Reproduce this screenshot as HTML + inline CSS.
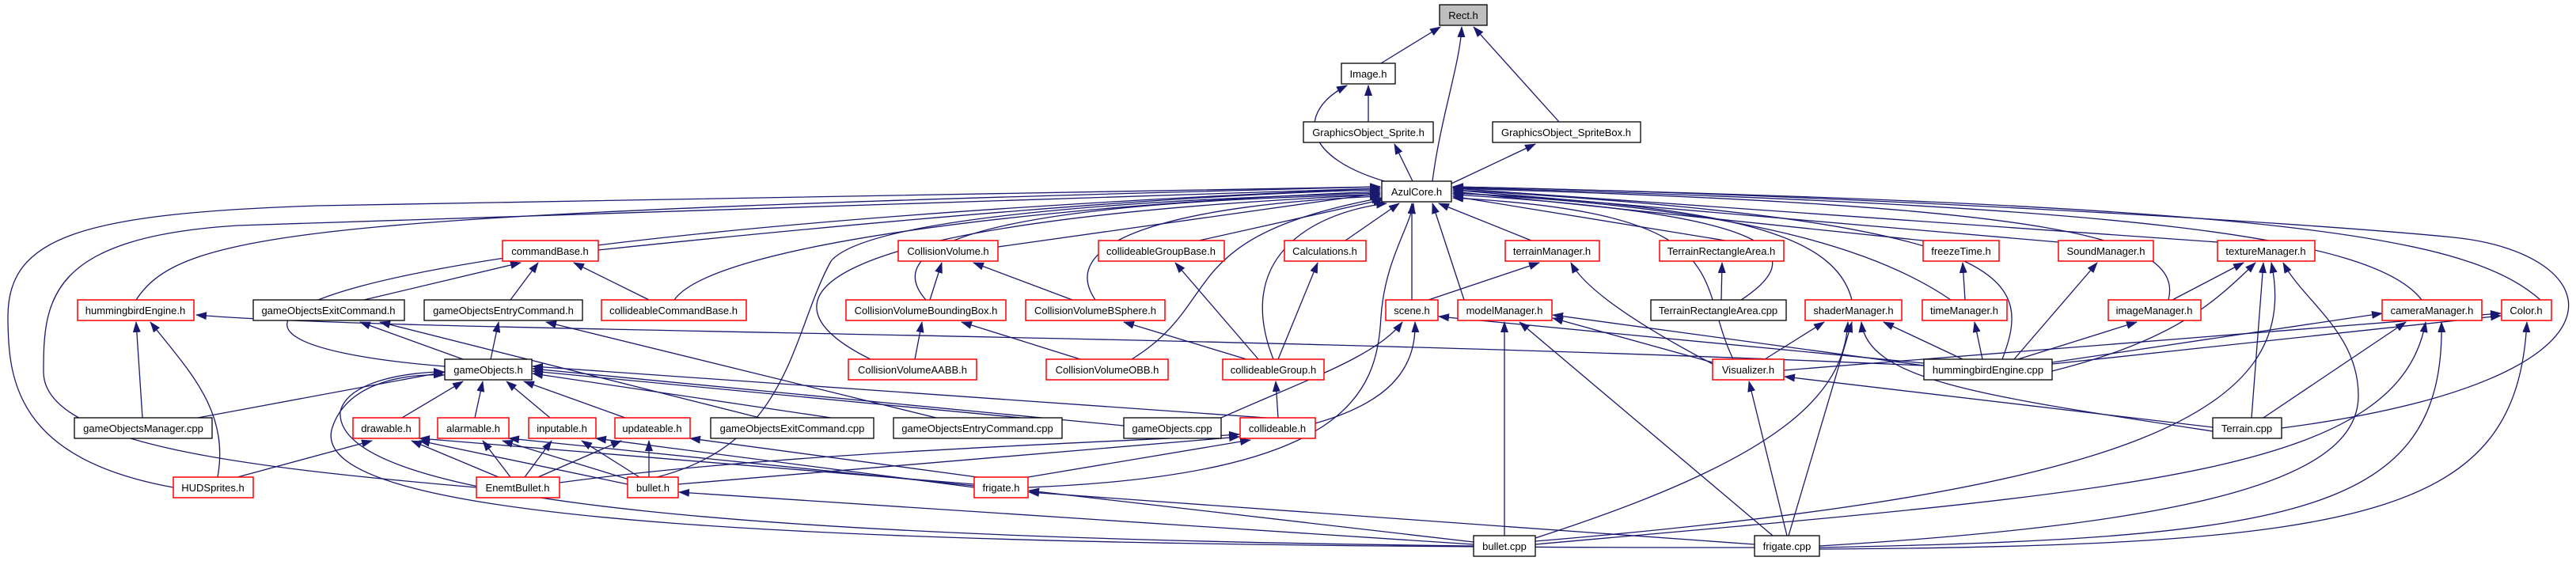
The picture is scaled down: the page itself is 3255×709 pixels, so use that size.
<!DOCTYPE html>
<html><head><meta charset="utf-8"><style>
html,body{margin:0;padding:0;background:#fff;}
svg{display:block;}
text{font-family:"Liberation Sans",sans-serif;font-size:13px;fill:#000;text-anchor:middle;}
.e{fill:none;stroke:#191970;stroke-width:1.3;marker-end:url(#a);}
.r{fill:#fff;stroke:#ff0000;stroke-width:1.5;}
.b{fill:#fff;stroke:#000;stroke-width:1.3;}
</style></head><body>
<svg width="3255" height="709" viewBox="0 0 3255 709" xmlns="http://www.w3.org/2000/svg">
<defs><marker id="a" markerWidth="14" markerHeight="10" refX="13" refY="5" orient="auto" markerUnits="userSpaceOnUse"><path d="M0,0 L14,5 L0,10 z" fill="#191970"/></marker></defs>
<g>
<path class="e" d="M1745,80 L1820,34"/>
<path class="e" d="M1810,229 C1820,150 1845,80 1847,34"/>
<path class="e" d="M1970,154 L1862,34"/>
<path class="e" d="M1729,154 L1729,108"/>
<path class="e" d="M1760,232 C1640,200 1640,140 1702,108"/>
<path class="e" d="M1785,229 L1762,182"/>
<path class="e" d="M1834,232 L1940,182"/>
<path class="e" d="M756,316 C1100,280 1500,245 1744,240"/>
<path class="e" d="M172,379 C230,290 400,270 1744,236"/>
<path class="e" d="M852,379 C900,310 1300,260 1744,242"/>
<path class="e" d="M1261,312 L1744,244"/>
<path class="e" d="M1170,379 C1100,300 1300,255 1744,246"/>
<path class="e" d="M1384,379 C1330,300 1500,258 1744,248"/>
<path class="e" d="M1515,304 L1748,252"/>
<path class="e" d="M1700,304 L1768,257"/>
<path class="e" d="M562,463 C150,430 300,300 1744,238"/>
<path class="e" d="M1100,454 C950,380 1000,280 1744,246"/>
<path class="e" d="M1430,454 C1550,380 1480,300 1746,250"/>
<path class="e" d="M1609,454 C1560,330 1650,270 1752,257"/>
<path class="e" d="M1784,379 L1784,257"/>
<path class="e" d="M1850,379 L1810,257"/>
<path class="e" d="M1935,304 L1818,257"/>
<path class="e" d="M2180,304 L1836,248"/>
<path class="e" d="M2200,379 C2290,320 2250,270 1836,246"/>
<path class="e" d="M2340,379 C2320,300 2200,260 1836,244"/>
<path class="e" d="M2465,379 C2350,300 2150,260 1836,244"/>
<path class="e" d="M2430,304 L1836,242"/>
<path class="e" d="M2530,454 C2570,350 2550,280 1836,240"/>
<path class="e" d="M2601,306 L1836,240"/>
<path class="e" d="M2740,379 C2760,300 2600,260 1836,238"/>
<path class="e" d="M2802,306 L1836,238"/>
<path class="e" d="M3060,379 C3000,300 2700,260 1836,237"/>
<path class="e" d="M3210,379 C3120,300 2900,260 1836,236"/>
<path class="e" d="M2883,541 C3350,480 3300,320 3100,300 S2300,245 1836,236"/>
<path class="e" d="M2190,454 C2140,350 2200,270 1836,250"/>
<path class="e" d="M219,616 C20,580 10,480 10,400 C10,300 100,270 400,260 L1744,236"/>
<path class="e" d="M602,616 C300,590 55,560 55,470 C55,380 60,300 300,285 L1744,238"/>
<path class="e" d="M1299,616 C1700,600 1740,500 1745,400 C1750,330 1780,290 1786,257"/>
<path class="e" d="M830,603 C1000,560 1000,420 1050,330 C1100,270 1500,250 1744,244"/>
<path class="e" d="M460,379 L658,332"/>
<path class="e" d="M645,379 L680,332"/>
<path class="e" d="M820,379 L725,332"/>
<path class="e" d="M585,454 L455,407"/>
<path class="e" d="M620,454 L630,407"/>
<path class="e" d="M960,528 L480,407"/>
<path class="e" d="M1183,528 L690,407"/>
<path class="e" d="M180,528 L172,407"/>
<path class="e" d="M275,603 C290,520 240,470 190,407"/>
<path class="e" d="M2431,462 C1500,420 500,420 248,398"/>
<path class="e" d="M250,528 L562,470"/>
<path class="e" d="M508,528 L585,482"/>
<path class="e" d="M600,528 L610,482"/>
<path class="e" d="M695,528 L640,482"/>
<path class="e" d="M790,528 L662,482"/>
<path class="e" d="M1050,528 L673,472"/>
<path class="e" d="M1290,528 L673,469"/>
<path class="e" d="M1420,538 L673,466"/>
<path class="e" d="M1600,528 L673,463"/>
<path class="e" d="M1862,690 C1000,680 420,640 430,520 C440,480 520,470 561,470"/>
<path class="e" d="M2217,692 C1000,692 380,660 420,540 C440,480 520,472 561,474"/>
<path class="e" d="M300,603 L470,557"/>
<path class="e" d="M630,603 L520,557"/>
<path class="e" d="M793,612 L530,557"/>
<path class="e" d="M1231,612 L530,554"/>
<path class="e" d="M645,603 L610,557"/>
<path class="e" d="M795,606 L635,557"/>
<path class="e" d="M1231,614 L643,554"/>
<path class="e" d="M663,603 L697,557"/>
<path class="e" d="M808,603 L735,557"/>
<path class="e" d="M1231,616 L753,554"/>
<path class="e" d="M680,603 L785,557"/>
<path class="e" d="M820,603 L820,557"/>
<path class="e" d="M1235,603 L872,554"/>
<path class="e" d="M707,610 C1000,570 1400,560 1566,549"/>
<path class="e" d="M857,612 L1566,552"/>
<path class="e" d="M1299,603 L1580,556"/>
<path class="e" d="M1615,528 L1612,482"/>
<path class="e" d="M1662,535 C1750,510 1790,470 1788,407"/>
<path class="e" d="M1543,528 C1650,480 1740,450 1772,407"/>
<path class="e" d="M2431,459 L1818,400"/>
<path class="e" d="M1862,688 L858,622"/>
<path class="e" d="M2217,688 L1300,622"/>
<path class="e" d="M1862,685 L1300,620"/>
<path class="e" d="M1175,379 L1190,332"/>
<path class="e" d="M1355,379 L1230,332"/>
<path class="e" d="M1156,454 L1165,407"/>
<path class="e" d="M1365,454 L1215,407"/>
<path class="e" d="M1575,454 L1420,407"/>
<path class="e" d="M1590,454 L1485,332"/>
<path class="e" d="M1615,454 L1665,332"/>
<path class="e" d="M1805,379 L1945,332"/>
<path class="e" d="M2164,460 C2050,400 2000,360 1985,332"/>
<path class="e" d="M2175,379 L2176,332"/>
<path class="e" d="M2164,458 L1962,402"/>
<path class="e" d="M2431,462 L1962,398"/>
<path class="e" d="M1901,677 L1901,407"/>
<path class="e" d="M2240,677 L1920,407"/>
<path class="e" d="M2230,454 L2305,407"/>
<path class="e" d="M2480,454 L2380,407"/>
<path class="e" d="M1940,680 C2250,580 2330,500 2335,407"/>
<path class="e" d="M2260,677 L2340,407"/>
<path class="e" d="M2796,545 C2500,500 2360,480 2352,407"/>
<path class="e" d="M2505,454 L2495,407"/>
<path class="e" d="M2483,379 L2480,332"/>
<path class="e" d="M2545,454 L2650,332"/>
<path class="e" d="M2745,379 L2835,332"/>
<path class="e" d="M2593,469 C2750,430 2800,380 2850,332"/>
<path class="e" d="M2845,528 L2860,332"/>
<path class="e" d="M1940,684 C2700,620 2910,520 2870,332"/>
<path class="e" d="M2299,690 C2800,660 2980,600 2980,500 C2980,420 2910,380 2885,332"/>
<path class="e" d="M2550,454 L2700,407"/>
<path class="e" d="M2593,458 L3010,396"/>
<path class="e" d="M2860,528 L3040,407"/>
<path class="e" d="M1940,688 C2700,620 3030,600 3065,407"/>
<path class="e" d="M2299,692 C2900,680 3090,650 3085,407"/>
<path class="e" d="M2254,468 L3160,396"/>
<path class="e" d="M2593,460 L3160,399"/>
<path class="e" d="M2299,694 C3000,690 3180,650 3193,407"/>
<path class="e" d="M2796,540 L2255,476"/>
<path class="e" d="M2258,677 L2210,482"/>
</g>
<g>
<rect x="1819" y="6" width="60" height="26" fill="#bfbfbf" stroke="#000" stroke-width="1.3"/><text x="1849" y="24">Rect.h</text>
<rect class="b" x="1695" y="80" width="68" height="26"/><text x="1729" y="98">Image.h</text>
<rect class="b" x="1647" y="154" width="164" height="26"/><text x="1729" y="172">GraphicsObject_Sprite.h</text>
<rect class="b" x="1886" y="154" width="187" height="26"/><text x="1979" y="172">GraphicsObject_SpriteBox.h</text>
<rect class="b" x="1746" y="229" width="88" height="26"/><text x="1790" y="247">AzulCore.h</text>

<rect class="r" x="635" y="304" width="121" height="26"/><text x="695" y="322">commandBase.h</text>
<rect class="r" x="1135" y="304" width="126" height="26"/><text x="1198" y="322">CollisionVolume.h</text>
<rect class="r" x="1388" y="304" width="159" height="26"/><text x="1467" y="322">collideableGroupBase.h</text>
<rect class="r" x="1623" y="304" width="103" height="26"/><text x="1674" y="322">Calculations.h</text>
<rect class="r" x="1902" y="304" width="119" height="26"/><text x="1961" y="322">terrainManager.h</text>
<rect class="r" x="2097" y="304" width="157" height="26"/><text x="2175" y="322">TerrainRectangleArea.h</text>
<rect class="r" x="2430" y="304" width="96" height="26"/><text x="2478" y="322">freezeTime.h</text>
<rect class="r" x="2601" y="304" width="120" height="26"/><text x="2661" y="322">SoundManager.h</text>
<rect class="r" x="2802" y="304" width="123" height="26"/><text x="2863" y="322">textureManager.h</text>

<rect class="r" x="98" y="379" width="147" height="26"/><text x="171" y="397">hummingbirdEngine.h</text>
<rect class="b" x="320" y="379" width="191" height="26"/><text x="415" y="397">gameObjectsExitCommand.h</text>
<rect class="b" x="536" y="379" width="200" height="26"/><text x="636" y="397">gameObjectsEntryCommand.h</text>
<rect class="r" x="760" y="379" width="183" height="26"/><text x="851" y="397">collideableCommandBase.h</text>
<rect class="r" x="1069" y="379" width="202" height="26"/><text x="1170" y="397">CollisionVolumeBoundingBox.h</text>
<rect class="r" x="1296" y="379" width="176" height="26"/><text x="1384" y="397">CollisionVolumeBSphere.h</text>
<rect class="r" x="1751" y="379" width="66" height="26"/><text x="1784" y="397">scene.h</text>
<rect class="r" x="1842" y="379" width="119" height="26"/><text x="1901" y="397">modelManager.h</text>
<rect class="b" x="2086" y="379" width="171" height="26"/><text x="2171" y="397">TerrainRectangleArea.cpp</text>
<rect class="r" x="2281" y="379" width="122" height="26"/><text x="2342" y="397">shaderManager.h</text>
<rect class="r" x="2429" y="379" width="107" height="26"/><text x="2482" y="397">timeManager.h</text>
<rect class="r" x="2664" y="379" width="117" height="26"/><text x="2722" y="397">imageManager.h</text>
<rect class="r" x="3010" y="379" width="126" height="26"/><text x="3073" y="397">cameraManager.h</text>
<rect class="r" x="3161" y="379" width="63" height="26"/><text x="3192" y="397">Color.h</text>

<rect class="b" x="562" y="454" width="110" height="26"/><text x="617" y="472">gameObjects.h</text>
<rect class="r" x="1072" y="454" width="162" height="26"/><text x="1153" y="472">CollisionVolumeAABB.h</text>
<rect class="r" x="1322" y="454" width="154" height="26"/><text x="1399" y="472">CollisionVolumeOBB.h</text>
<rect class="r" x="1545" y="454" width="128" height="26"/><text x="1609" y="472">collideableGroup.h</text>
<rect class="r" x="2164" y="454" width="90" height="26"/><text x="2209" y="472">Visualizer.h</text>
<rect class="b" x="2431" y="454" width="162" height="26"/><text x="2512" y="472">hummingbirdEngine.cpp</text>

<rect class="b" x="94" y="528" width="174" height="26"/><text x="181" y="546">gameObjectsManager.cpp</text>
<rect class="r" x="446" y="528" width="84" height="26"/><text x="488" y="546">drawable.h</text>
<rect class="r" x="553" y="528" width="90" height="26"/><text x="598" y="546">alarmable.h</text>
<rect class="r" x="668" y="528" width="85" height="26"/><text x="710" y="546">inputable.h</text>
<rect class="r" x="777" y="528" width="95" height="26"/><text x="824" y="546">updateable.h</text>
<rect class="b" x="898" y="528" width="206" height="26"/><text x="1001" y="546">gameObjectsExitCommand.cpp</text>
<rect class="b" x="1129" y="528" width="213" height="26"/><text x="1235" y="546">gameObjectsEntryCommand.cpp</text>
<rect class="b" x="1420" y="528" width="123" height="26"/><text x="1481" y="546">gameObjects.cpp</text>
<rect class="r" x="1567" y="528" width="95" height="26"/><text x="1614" y="546">collideable.h</text>
<rect class="b" x="2796" y="528" width="87" height="26"/><text x="2839" y="546">Terrain.cpp</text>

<rect class="r" x="219" y="603" width="101" height="26"/><text x="269" y="621">HUDSprites.h</text>
<rect class="r" x="602" y="603" width="105" height="26"/><text x="654" y="621">EnemtBullet.h</text>
<rect class="r" x="793" y="603" width="64" height="26"/><text x="825" y="621">bullet.h</text>
<rect class="r" x="1231" y="603" width="68" height="26"/><text x="1265" y="621">frigate.h</text>

<rect class="b" x="1862" y="677" width="78" height="26"/><text x="1901" y="695">bullet.cpp</text>
<rect class="b" x="2217" y="677" width="82" height="26"/><text x="2258" y="695">frigate.cpp</text>
</g>
</svg>
</body></html>
